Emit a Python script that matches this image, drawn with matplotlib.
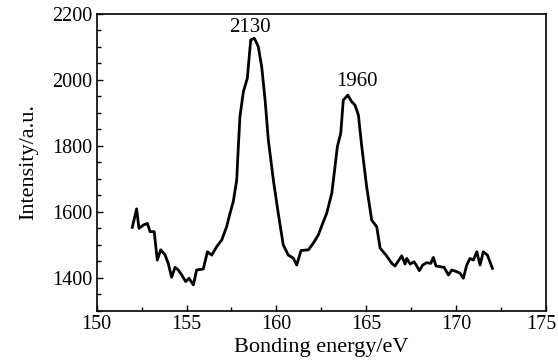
import matplotlib
matplotlib.use("Agg")
import matplotlib.pyplot as plt
from matplotlib.ticker import MultipleLocator

# Bonding energy (eV) and intensity (a.u.)
energy = [
    151.98, 152.22, 152.35, 152.60, 152.82, 152.97, 153.20, 153.37, 153.56, 153.80,
    153.98, 154.17, 154.36, 154.54, 154.73, 154.95, 155.14, 155.38, 155.56, 155.93,
    156.16, 156.40, 156.68, 156.96, 157.23, 157.42, 157.60, 157.79, 157.88, 157.97,
    158.16, 158.38, 158.57, 158.77, 158.99, 159.18, 159.37, 159.55, 159.83, 160.10,
    160.38, 160.66, 160.94, 161.13, 161.37, 161.78, 162.05, 162.33, 162.61, 162.80,
    163.08, 163.26, 163.39, 163.58, 163.72, 163.97, 164.19, 164.37, 164.56, 164.75,
    165.02, 165.30, 165.58, 165.77, 166.10, 166.42, 166.60, 166.97, 167.16, 167.25,
    167.44, 167.66, 167.81, 167.95, 168.14, 168.36, 168.59, 168.73, 168.88, 169.10,
    169.33, 169.57, 169.76, 170.03, 170.22, 170.40, 170.59, 170.77, 170.96, 171.15,
    171.33, 171.51, 171.74, 172.02,
]
intensity = [
    1553, 1609, 1550, 1560, 1565, 1540, 1540, 1454, 1485, 1470,
    1444, 1402, 1432, 1424, 1409, 1389, 1399, 1379, 1424, 1427,
    1479, 1469, 1495, 1515, 1555, 1596, 1631, 1696, 1797, 1888,
    1963, 2004, 2120, 2125, 2100, 2039, 1938, 1817, 1696, 1596,
    1500, 1469, 1460, 1439, 1483, 1485, 1505, 1530, 1570, 1596,
    1656, 1737, 1797, 1838, 1938, 1953, 1933, 1923, 1893, 1797,
    1676, 1575, 1555, 1490, 1469, 1444, 1436, 1467, 1442, 1459,
    1442, 1449, 1436, 1422, 1439, 1446, 1444, 1462, 1436, 1434,
    1432, 1409, 1424, 1419, 1414, 1399, 1439, 1459, 1454, 1479,
    1439, 1479, 1469, 1429,
]

x_ticks = [150, 155, 160, 165, 170, 175]
x_tick_labels = ["150", "155", "160", "165", "170", "175"]

peak_labels = ["2130", "1960"]
peak_pos = [(158.53, 2158), (164.49, 1995)]

plt.rcParams["font.family"] = ["Liberation Serif", "DejaVu Serif"]

fig = plt.figure(figsize=(5.58, 3.63), dpi=100)
ax = fig.add_axes([0.1733, 0.1433, 0.8052, 0.8195])

ax.plot(energy, intensity, color="black", linewidth=2.0)

for label, (px, py) in zip(peak_labels, peak_pos):
    ax.text(px, py, label, ha="center", va="center", fontsize=15)

ax.set_xlim(150, 175)
ax.set_ylim(1300, 2200)
# last x label is drawn by hand so it is not cut at the figure edge
ax.set_xticks(x_ticks, labels=x_tick_labels[:-1] + [""])
ax.annotate(x_tick_labels[-1], xy=(x_ticks[-1], 0), xycoords=("data", "axes fraction"),
            xytext=(-3, -3), textcoords="offset points", ha="center", va="top",
            fontsize=14.5)
ax.xaxis.set_minor_locator(MultipleLocator(2.5))
ax.yaxis.set_major_locator(MultipleLocator(200))
ax.yaxis.set_minor_locator(MultipleLocator(50))
ax.tick_params(which="both", direction="in", top=False, right=False, labelsize=14.5)
ax.tick_params(which="major", length=4, width=1, pad=3)
ax.tick_params(which="minor", length=3, width=1)
for sp in ax.spines.values():
    sp.set_linewidth(1.2)

ax.set_xlabel("Bonding energy/eV", fontsize=16, labelpad=3)
ax.set_ylabel("Intensity/a.u.", fontsize=16, labelpad=10)

fig.savefig("out.png", dpi=100)
